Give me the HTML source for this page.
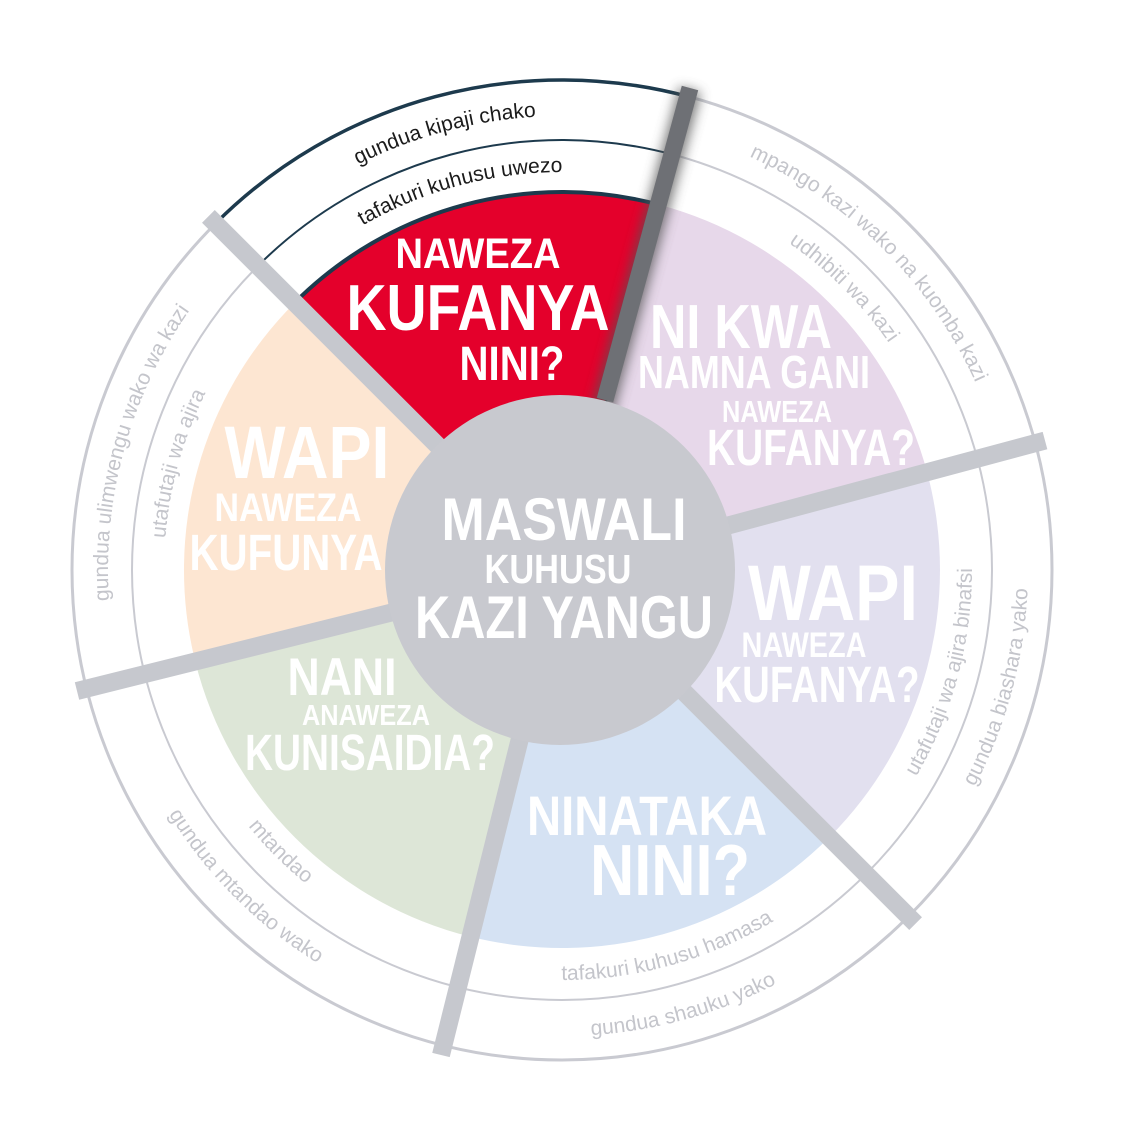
<!DOCTYPE html>
<html><head><meta charset="utf-8"><style>
html,body{margin:0;padding:0;background:#fff;}
svg{display:block;}
.ring{font-family:"Liberation Sans",sans-serif;font-size:21px;fill:#c4c5cb;}
.ringd{font-family:"Liberation Sans",sans-serif;font-size:21px;fill:#1b1b1b;}
.big{font-family:"Liberation Sans Narrow","Liberation Sans",sans-serif;font-weight:bold;fill:#fff;text-anchor:middle;}
</style></head><body>
<svg width="1128" height="1122" viewBox="0 0 1128 1122" xmlns="http://www.w3.org/2000/svg">
<defs>
<filter id="sh" x="-50%" y="-50%" width="200%" height="200%"><feGaussianBlur stdDeviation="6"/></filter>
<path id="pRedO" d="M241,249 A454,454 0 0 1 679.5,131.5"/>
<path id="pRedI" d="M280.6,288.6 A398,398 0 0 1 665,185.6"/>
<path id="pPurO" d="M679.5,131.5 A454,454 0 0 1 1000.5,452.5"/>
<path id="pPurI" d="M665,185.6 A398,398 0 0 1 946.4,467"/>
<path id="pLavO" d="M891.5,899.5 A466,466 0 0 0 1012.1,449.4"/>
<path id="pLavI" d="M851.9,859.9 A410,410 0 0 0 958,463.9"/>
<path id="pBluO" d="M449.3,1022.2 A466,466 0 0 0 891.5,899.5"/>
<path id="pBluI" d="M462.8,967.8 A410,410 0 0 0 851.9,859.9"/>
<path id="pGrnO" d="M112.8,682 A463,463 0 0 0 450,1019.2"/>
<path id="pGrnI" d="M169,668 A405,405 0 0 0 464,963"/>
<path id="pPchO" d="M121.5,679.8 A454,454 0 0 1 241,249"/>
<path id="pPchI" d="M175.8,666.3 A398,398 0 0 1 280.6,288.6"/>
</defs>
<circle cx="562" cy="570" r="490" fill="#fff" stroke="#c9cad1" stroke-width="3"/>
<circle cx="562" cy="570" r="430" fill="none" stroke="#c9cad1" stroke-width="2"/>
<path d="M562,570 L215.5,223.5 A490,490 0 0 1 688.8,96.7 Z" fill="#fff"/>
<path d="M215.5,223.5 A490,490 0 0 1 688.8,96.7" fill="none" stroke="#1d3a4d" stroke-width="3.5"/>
<path d="M257.9,265.9 A430,430 0 0 1 673.3,154.7" fill="none" stroke="#1d3a4d" stroke-width="2"/>
<path d="M562,570 L294.7,302.7 A378,378 0 0 1 659.8,204.9 Z" fill="#e4002b" stroke="#1d3a4d" stroke-width="4"/>
<path d="M562,570 L659.8,204.9 A378,378 0 0 1 927.1,472.2 Z" fill="#e7d8ea"/>
<path d="M562,570 L927.1,472.2 A378,378 0 0 1 829.3,837.3 Z" fill="#e2e0ef"/>
<path d="M562,570 L829.3,837.3 A378,378 0 0 1 470.6,936.8 Z" fill="#d5e2f3"/>
<path d="M562,570 L470.6,936.8 A378,378 0 0 1 195.2,661.4 Z" fill="#dde6d7"/>
<path d="M562,570 L195.2,661.4 A378,378 0 0 1 294.7,302.7 Z" fill="#fde6d2"/>
<path d="M562,570 L294.7,302.7" stroke="#1d3a4d" stroke-width="4"/>
<g stroke="#c6c8ce" stroke-width="18">
<line x1="562" y1="570" x2="208.4" y2="216.4"/>
<line x1="562" y1="570" x2="1045" y2="440.6"/>
<line x1="562" y1="570" x2="915.6" y2="923.6"/>
<line x1="562" y1="570" x2="441" y2="1055"/>
<line x1="562" y1="570" x2="77" y2="691"/>
</g>
<line x1="600" y1="420" x2="690" y2="90" stroke="#555" stroke-width="22" filter="url(#sh)" opacity="0.8"/>
<line x1="605" y1="400" x2="690" y2="88" stroke="#6e7075" stroke-width="17"/>
<circle cx="560" cy="570" r="175" fill="#c8c9cf"/>
<text class="ringd"><textPath href="#pRedO" startOffset="50%" text-anchor="middle">gundua kipaji chako</textPath></text>
<text class="ringd"><textPath href="#pRedI" startOffset="50%" text-anchor="middle">tafakuri kuhusu uwezo</textPath></text>
<text class="ring"><textPath href="#pPurO" startOffset="50%" text-anchor="middle">mpango kazi wako na kuomba kazi</textPath></text>
<text class="ring"><textPath href="#pPurI" startOffset="50%" text-anchor="middle">udhibiti wa kazi</textPath></text>
<text class="ring"><textPath href="#pLavO" startOffset="50%" text-anchor="middle">gundua biashara yako</textPath></text>
<text class="ring"><textPath href="#pLavI" startOffset="50%" text-anchor="middle">utafutaji wa ajira binafsi</textPath></text>
<text class="ring"><textPath href="#pBluO" startOffset="50%" text-anchor="middle">gundua shauku yako</textPath></text>
<text class="ring"><textPath href="#pBluI" startOffset="50%" text-anchor="middle">tafakuri kuhusu hamasa</textPath></text>
<text class="ring"><textPath href="#pGrnO" startOffset="50%" text-anchor="middle">gundua mtandao wako</textPath></text>
<text class="ring"><textPath href="#pGrnI" startOffset="50%" text-anchor="middle">mtandao</textPath></text>
<text class="ring"><textPath href="#pPchO" startOffset="50%" text-anchor="middle">gundua ulimwengu wako wa kazi</textPath></text>
<text class="ring"><textPath href="#pPchI" startOffset="50%" text-anchor="middle">utafutaji wa ajira</textPath></text>
<text class="big" x="478" y="268" font-size="43" textLength="165" lengthAdjust="spacingAndGlyphs">NAWEZA</text>
<text class="big" x="478" y="330" font-size="65" textLength="263" lengthAdjust="spacingAndGlyphs">KUFANYA</text>
<text class="big" x="512" y="380" font-size="48" textLength="105" lengthAdjust="spacingAndGlyphs">NINI?</text>
<text class="big" x="741" y="348" font-size="62" textLength="182" lengthAdjust="spacingAndGlyphs">NI KWA</text>
<text class="big" x="754" y="388" font-size="46" textLength="232" lengthAdjust="spacingAndGlyphs">NAMNA GANI</text>
<text class="big" x="777" y="422" font-size="31" textLength="110" lengthAdjust="spacingAndGlyphs">NAWEZA</text>
<text class="big" x="811" y="465" font-size="51" textLength="208" lengthAdjust="spacingAndGlyphs">KUFANYA?</text>
<text class="big" x="307" y="478" font-size="74" textLength="165" lengthAdjust="spacingAndGlyphs">WAPI</text>
<text class="big" x="288" y="521" font-size="40" textLength="147" lengthAdjust="spacingAndGlyphs">NAWEZA</text>
<text class="big" x="286" y="570" font-size="51" textLength="193" lengthAdjust="spacingAndGlyphs">KUFUNYA</text>
<text class="big" x="564" y="540" font-size="60" textLength="245" lengthAdjust="spacingAndGlyphs">MASWALI</text>
<text class="big" x="558" y="583" font-size="41" textLength="147" lengthAdjust="spacingAndGlyphs">KUHUSU</text>
<text class="big" x="564" y="638" font-size="60" textLength="298" lengthAdjust="spacingAndGlyphs">KAZI YANGU</text>
<text class="big" x="833" y="620" font-size="79" textLength="170" lengthAdjust="spacingAndGlyphs">WAPI</text>
<text class="big" x="804" y="657" font-size="35" textLength="125" lengthAdjust="spacingAndGlyphs">NAWEZA</text>
<text class="big" x="817" y="702" font-size="51" textLength="205" lengthAdjust="spacingAndGlyphs">KUFANYA?</text>
<text class="big" x="342" y="695" font-size="53" textLength="109" lengthAdjust="spacingAndGlyphs">NANI</text>
<text class="big" x="366" y="725" font-size="29" textLength="128" lengthAdjust="spacingAndGlyphs">ANAWEZA</text>
<text class="big" x="370" y="770" font-size="51" textLength="250" lengthAdjust="spacingAndGlyphs">KUNISAIDIA?</text>
<text class="big" x="647" y="835" font-size="56" textLength="240" lengthAdjust="spacingAndGlyphs">NINATAKA</text>
<text class="big" x="670" y="895" font-size="72" textLength="160" lengthAdjust="spacingAndGlyphs">NINI?</text>
</svg>
</body></html>
